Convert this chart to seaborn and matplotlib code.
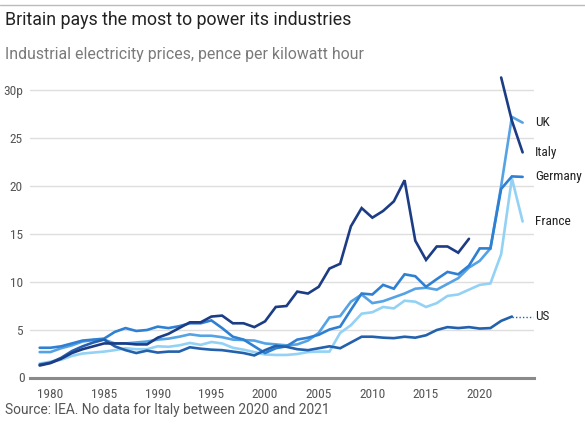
import numpy as np
import pandas as pd
import matplotlib
matplotlib.use("Agg")
import matplotlib.pyplot as plt
import matplotlib.transforms as mtransforms
from matplotlib import font_manager
import seaborn as sns

years = list(range(1979, 2025))

italy = [1.3, 1.55, 2.0, 2.6, 3.0, 3.3, 3.6, 3.6, 3.6, 3.5, 3.5, 4.2, 4.6, 5.2, 5.8, 5.8,
         6.4, 6.5, 5.7, 5.7, 5.3, 5.9, 7.4, 7.5, 9.0, 8.8, 9.5, 11.4, 11.9, 15.8, 17.7,
         16.7, 17.4, 18.4, 20.6, 14.3, 12.3, 13.7, 13.7, 13.05, 14.5, np.nan, np.nan,
         31.3, 26.8, 23.5]
germany = [3.15, 3.15, 3.3, 3.6, 3.9, 4.0, 4.1, 4.8, 5.2, 4.9, 5.0, 5.35, 5.2, 5.4, 5.7,
           5.7, 6.0, 5.2, 4.3, 4.0, 3.3, 2.6, 3.1, 3.3, 4.0, 4.2, 4.5, 5.05, 5.35, 7.1,
           8.8, 8.7, 9.7, 9.3, 10.8, 10.6, 9.5, 10.3, 11.05, 10.8, 11.7, 13.5, 13.5,
           19.7, 21.0, 20.95]
uk = [2.7, 2.7, 3.1, 3.4, 3.8, 3.95, 4.0, 3.6, 3.6, 3.7, 3.8, 4.0, 4.1, 4.3, 4.55, 4.4,
      4.4, 4.25, 4.0, 3.95, 3.9, 3.6, 3.5, 3.4, 3.5, 3.9, 4.7, 6.3, 6.45, 7.95, 8.7, 7.8,
      8.0, 8.4, 8.8, 9.3, 9.4, 9.2, 9.8, 10.4, 11.5, 12.2, 13.5, 20.0, 27.2, 26.6]
france = [1.5, 1.7, 1.9, 2.3, 2.55, 2.65, 2.75, 2.9, 3.1, 3.0, 3.0, 3.3, 3.25, 3.4, 3.65,
          3.45, 3.75, 3.6, 3.15, 2.95, 2.7, 2.45, 2.4, 2.4, 2.5, 2.7, 2.75, 2.75, 4.7,
          5.5, 6.7, 6.85, 7.4, 7.25, 8.05, 7.95, 7.4, 7.8, 8.55, 8.7, 9.2, 9.7, 9.85,
          12.9, 20.8, 16.3]
us = [1.4, 1.6, 2.1, 2.8, 3.3, 3.7, 4.0, 3.3, 2.9, 2.6, 2.85, 2.65, 2.75, 2.75, 3.2,
      3.05, 2.95, 2.9, 2.75, 2.6, 2.35, 2.9, 3.35, 3.25, 3.0, 2.9, 3.1, 3.3, 3.1, 3.7,
      4.3, 4.3, 4.2, 4.15, 4.3, 4.2, 4.45, 5.0, 5.3, 5.2, 5.3, 5.15, 5.2, 5.95, 6.4,
      np.nan]

series_names = ["France", "UK", "Germany", "US", "Italy"]
series_values = [france, uk, germany, us, italy]
colors = {"Italy": "#1c3d85", "US": "#2461ad", "Germany": "#2f80d2",
          "UK": "#55a3e4", "France": "#93d2f5"}

y_ticks = [0, 5, 10, 15, 20, 25, 30]
y_tick_labels = ["0", "5", "10", "15", "20", "25", "30p"]
x_ticks = [1980, 1985, 1990, 1995, 2000, 2005, 2010, 2015, 2020]

rows = []
for name, vals in zip(series_names, series_values):
    seg = 0
    for yr, v in zip(years, vals):
        if np.isnan(v):
            seg += 1
            continue
        rows.append({"year": yr, "value": v, "country": name, "seg": f"{name}{seg}"})
df = pd.DataFrame(rows)

sns.set_theme(style="white")
plt.rcParams["font.family"] = ["Roboto", "DejaVu Sans"]

# look for a condensed face for the tick and end labels
available = {f.name for f in font_manager.fontManager.ttflist}
cond_name = None
for cand in ["Roboto Condensed", "Liberation Sans Narrow", "Open Sans Condensed",
             "Noto Sans Condensed", "DejaVu Sans Condensed"]:
    if cand in available:
        cond_name = cand
        break
cond_stretch = "normal"
if cond_name is None:
    for f in font_manager.fontManager.ttflist:
        if f.stretch in ("condensed", "semi-condensed", 75, 87.5) and "Sans" in f.name:
            cond_name = f.name
            cond_stretch = f.stretch
            break
if cond_name is None:
    cond_name = "Roboto"
cond = [cond_name, "DejaVu Sans"]
lab_size = 9.6 if cond_name != "Roboto" else 8.9

W, H = 585, 425
fig = plt.figure(figsize=(W / 100, H / 100), dpi=100)
ax = fig.add_axes([30 / W, 1 - 378 / H, (534 - 30) / W, (378 - 70.8) / H])

for name in series_names:
    sub = df[df.country == name]
    sns.lineplot(data=sub, x="year", y="value", units="seg", estimator=None,
                 color=colors[name], linewidth=1.9, ax=ax, legend=False,
                 solid_joinstyle="miter", clip_on=False)

ax.set_xlim(1978.1, 2025.06)
ax.set_ylim(0, 32)
ax.set_xlabel("")
ax.set_ylabel("")
for s in ["top", "right", "left"]:
    ax.spines[s].set_visible(False)
ax.spines["bottom"].set_color("#8a8a8a")
ax.spines["bottom"].set_linewidth(2.2)
ax.spines["bottom"].set_zorder(5)

ax.set_yticks(y_ticks[1:])
ax.set_yticklabels(y_tick_labels[1:])
ax.yaxis.grid(True, color="#dedede", linewidth=1.0)
ax.set_axisbelow(True)
ax.set_xticks(x_ticks)
ax.set_xticklabels([str(x) for x in x_ticks])
ax.tick_params(axis="both", length=0, colors="#555555", labelsize=lab_size)
ax.tick_params(axis="y", pad=5)
ax.tick_params(axis="x", pad=7)
for lab in ax.get_xticklabels() + ax.get_yticklabels():
    lab.set_family(cond)
    lab.set_stretch(cond_stretch)
trans_y = mtransforms.blended_transform_factory(ax.transAxes, ax.transData)
ax.text(-0.01, 0, y_tick_labels[0], transform=trans_y, ha="right", va="center",
        fontsize=lab_size, color="#555555", family=cond, stretch=cond_stretch)

# end labels
for name, vals in zip(series_names, series_values):
    arr = np.array(vals, dtype=float)
    idx = np.where(~np.isnan(arr))[0][-1]
    ax.text(1.002, arr[idx], name, transform=trans_y, ha="left", va="center",
            fontsize=lab_size, color="#222222", family=cond, stretch=cond_stretch)
    if name == "US":
        ax.plot([years[idx], 2025.0], [arr[idx], arr[idx]], color=colors[name],
                linestyle=(0, (1, 1.5)), linewidth=1.0, clip_on=False)

fig.add_artist(plt.Line2D([0, 1], [1 - 5 / H, 1 - 5 / H], color="#bbbbbb", linewidth=1.0))
fig.text(5 / W, 1 - 20 / H, "Britain pays the most to power its industries",
         fontsize=12.8, color="#222222", ha="left", va="center")
fig.text(5 / W, 1 - 54 / H, "Industrial electricity prices, pence per kilowatt hour",
         fontsize=11.4, color="#7a7a7a", ha="left", va="center")
fig.text(5 / W, 1 - 410 / H, "Source: IEA. No data for Italy between 2020 and 2021",
         fontsize=9.95, color="#555555", ha="left", va="center")

fig.savefig("out.png", dpi=100)
